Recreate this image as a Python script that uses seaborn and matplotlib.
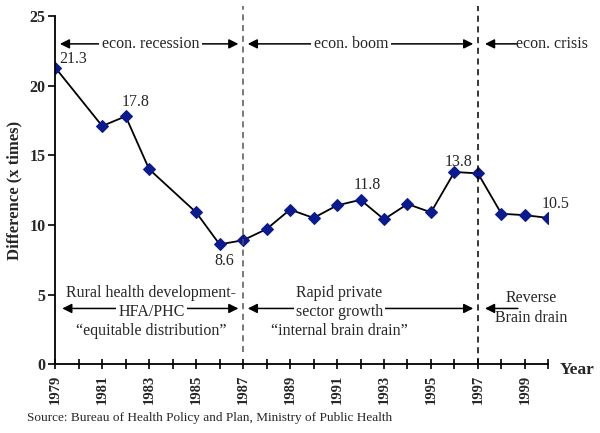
import matplotlib
matplotlib.use("Agg")
import matplotlib.pyplot as plt
import seaborn as sns
import pandas as pd

years = [1979, 1981, 1982, 1983, 1985, 1986, 1987, 1988, 1989, 1990, 1991,
         1992, 1993, 1994, 1995, 1996, 1997, 1998, 1999, 2000]
values = [21.3, 17.1, 17.8, 14.0, 10.9, 8.6, 8.9, 9.7, 11.1, 10.5, 11.4,
          11.8, 10.4, 11.5, 10.9, 13.8, 13.7, 10.8, 10.7, 10.5]
labeled_years = [1979, 1982, 1986, 1992, 1996, 2000]
period_bounds = [1979, 1987, 1997, 2000]
econ_labels = ["econ. recession", "econ. boom", "econ. crisis"]
policy_labels = [["Rural health development-", "HFA/PHC", "\u201cequitable distribution\u201d"],
                 ["Rapid private", "sector growth", "\u201cinternal brain drain\u201d"],
                 ["Reverse", "Brain drain"]]
xtick_labels = [str(y) for y in range(1979, 2000, 2)]
yticks = [0, 5, 10, 15, 20, 25]
source = "Source: Bureau of Health Policy and Plan, Ministry of Public Health"

df = pd.DataFrame({"Year": years, "Difference": values})

sns.set_theme(style="white")
plt.rcParams["font.family"] = ["Liberation Serif", "DejaVu Serif"]

fig = plt.figure(figsize=(6, 4.33), dpi=100)
ax = fig.add_axes([0.092, 0.159, 0.822, 0.804])

sns.lineplot(data=df, x="Year", y="Difference", ax=ax, color="black", linewidth=1.3,
             marker="D", markersize=6, markerfacecolor="#0b1a8f", markeredgecolor="#0b1a8f")

ax.set_xlim(1979, 2000)
ax.set_ylim(0, 25)
ax.set_xticks(range(1979, 2000, 2))
ax.set_xticklabels(xtick_labels, rotation=90, fontweight="bold", fontsize=10.5)
ax.set_xticks(range(1979, 2001), minor=True)
ax.set_yticks(yticks)
ax.set_yticklabels([str(v) for v in yticks], fontweight="bold", fontsize=11.5)
ax.tick_params(axis="x", which="both", direction="inout", length=7, width=1.2, color="black", bottom=True, pad=4)
ax.tick_params(axis="y", direction="out", length=5, width=1.2, color="black", left=True, pad=2)
for s in ["top", "right"]:
    ax.spines[s].set_visible(False)
for s in ["left", "bottom"]:
    ax.spines[s].set_color("black")
    ax.spines[s].set_linewidth(1.3)
ax.set_xlabel("")
ax.set_ylabel("Difference (x times)", fontweight="bold", fontsize=12, labelpad=5)
fig.text(0.933, 0.145, "Year", fontweight="bold", fontsize=12.5, ha="left", va="center")

# period divider lines
ax.axvline(period_bounds[1], ymin=0.035, ymax=1.03, color="#555555", linestyle=(0, (4, 3)), linewidth=1.1, clip_on=False)
ax.axvline(period_bounds[2], ymin=0.0, ymax=1.03, color="black", linestyle=(0, (4, 3)), linewidth=1.1, clip_on=False)

arrow = dict(arrowstyle="<|-|>", color="black", lw=1.1, mutation_scale=14, shrinkA=0, shrinkB=0)
arrow1 = dict(arrowstyle="-|>", color="black", lw=1.1, mutation_scale=14, shrinkA=0, shrinkB=0)
white = dict(facecolor="white", edgecolor="none", pad=2)
fs = 11.5

# top: economic periods
ytop = 23.0
ax.annotate("", xy=(1979.2, ytop), xytext=(1986.8, ytop), arrowprops=arrow)
ax.text(1983.05, ytop, econ_labels[0], ha="center", va="center", fontsize=fs, bbox=white)
ax.annotate("", xy=(1987.2, ytop), xytext=(1996.8, ytop), arrowprops=arrow)
ax.text(1991.6, ytop, econ_labels[1], ha="center", va="center", fontsize=fs, bbox=white)
ax.annotate("", xy=(1997.3, ytop), xytext=(1998.65, ytop), arrowprops=arrow1)
ax.text(1998.62, ytop, econ_labels[2], ha="left", va="center", fontsize=fs)

# bottom: policy periods
ybot = 4.0
mid_box = dict(facecolor="white", edgecolor="none", pad=1.5)
ax.annotate("", xy=(1979.3, ybot), xytext=(1986.8, ybot), arrowprops=arrow)
ax.text(1983.1, 5.1, policy_labels[0][0], ha="center", va="center", fontsize=fs)
ax.text(1983.1, 3.75, policy_labels[0][1], ha="center", va="center", fontsize=fs, bbox=mid_box)
ax.text(1983.1, 2.4, policy_labels[0][2], ha="center", va="center", fontsize=fs)
ax.annotate("", xy=(1987.2, ybot), xytext=(1996.8, ybot), arrowprops=arrow)
ax.text(1991.1, 5.1, policy_labels[1][0], ha="center", va="center", fontsize=fs)
ax.text(1991.1, 3.75, policy_labels[1][1], ha="center", va="center", fontsize=fs, bbox=mid_box)
ax.text(1991.1, 2.4, policy_labels[1][2], ha="center", va="center", fontsize=fs)
ax.annotate("", xy=(1997.3, ybot), xytext=(1998.7, ybot), arrowprops=arrow1)
ax.text(1999.25, 4.75, policy_labels[2][0], ha="center", va="center", fontsize=fs)
ax.text(1999.25, 3.35, policy_labels[2][1], ha="center", va="center", fontsize=fs)

# value labels
offsets = {1979: (3, 6, "left"), 1982: (7, 10, "center"), 1986: (3, -12, "center"),
           1992: (5, 11, "center"), 1996: (3, 7, "center"), 2000: (5, 10, "center")}
for yr in labeled_years:
    v = values[years.index(yr)]
    dx, dy, ha = offsets[yr]
    ax.annotate(f"{v:.1f}", xy=(yr, v), xytext=(dx, dy), textcoords="offset points",
                ha=ha, va="center", fontsize=11.5)

fig.text(0.045, 0.035, source, ha="left", va="center", fontsize=9.5)

fig.savefig("out.png", dpi=100)
